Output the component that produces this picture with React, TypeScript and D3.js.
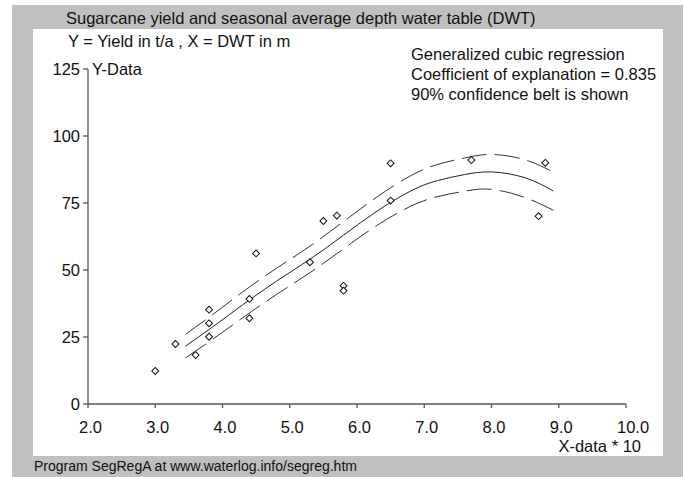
import React from "react";
import * as d3 from "d3";

const titleLines = [
  "Sugarcane yield and seasonal average depth water table (DWT)",
  "Y = Yield in t/a , X = DWT in m",
];
const infoLines = [
  "Generalized cubic regression",
  "Coefficient of explanation = 0.835",
  "90% confidence belt is shown",
];
const footer = "Program SegRegA at www.waterlog.info/segreg.htm";

const xTicks = [2, 3, 4, 5, 6, 7, 8, 9, 10];
const yTicks = [0, 25, 50, 75, 100, 125];

const xObs = [3.0, 3.3, 3.6, 3.8, 3.8, 3.8, 4.4, 4.4, 4.5, 5.3, 5.5, 5.7, 5.8, 5.8, 6.5, 6.5, 7.7, 8.7, 8.8];
const yObs = [12.3, 22.4, 18.3, 35.2, 30.1, 25.1, 39.2, 32.0, 56.2, 52.9, 68.3, 70.3, 44.1, 42.3, 89.8, 75.9, 91.0, 70.1, 90.0];

const xFit = [3.45, 3.85, 4.3, 4.8, 5.3, 5.8, 6.3, 6.8, 7.2, 7.6, 8.0, 8.5, 8.92];
const yFit = [21.6, 28.7, 37.0, 45.8, 54.0, 63.0, 72.0, 79.5, 83.4, 85.6, 86.6, 84.4, 79.5];
const yUpper = [26.0, 33.3, 41.8, 50.6, 58.9, 68.1, 77.3, 85.2, 89.4, 91.8, 93.1, 91.1, 86.5];
const yLower = [17.2, 24.1, 32.2, 40.8, 49.0, 57.9, 66.7, 73.8, 77.4, 79.4, 80.1, 77.0, 72.3];

const FONT = "'Liberation Sans', Arial, sans-serif";

export default function App() {
  const x = d3.scaleLinear().domain([2, 10]).range([88, 626]);
  const y = d3.scaleLinear().domain([0, 125]).range([404, 69]);

  const line = d3
    .line<number>()
    .x((_, i) => x(xFit[i]))
    .y((d) => y(d))
    .curve(d3.curveNatural);

  const diamond = d3.symbol().type(d3.symbolSquare).size(24)();

  return (
    <svg
      width={686}
      height={477}
      style={{ position: "absolute", left: 0, top: 0, background: "#fff" }}
      fontFamily={FONT}
    >
      <rect x={12} y={5} width={671} height={472} fill="#c0c0c0" />
      <rect x={33} y={29} width={630} height={427} fill="#fff" />

      <text x={66} y={23.5} fontSize={16.5} fill="#111">{titleLines[0]}</text>
      <text x={68} y={47} fontSize={16.5} fill="#111">{titleLines[1]}</text>

      {infoLines.map((t, i) => (
        <text key={t} x={411} y={60 + i * 20} fontSize={16.5} fill="#111">{t}</text>
      ))}

      {/* axes */}
      <line x1={x(2)} x2={x(2)} y1={y(125)} y2={y(0)} stroke="#555" strokeWidth={1.3} />
      <line x1={x(2)} x2={x(10)} y1={y(0)} y2={y(0)} stroke="#555" strokeWidth={1.3} />

      {yTicks.map((t) => (
        <g key={t}>
          <line x1={x(2) - 5} x2={x(2)} y1={y(t)} y2={y(t)} stroke="#555" strokeWidth={1.3} />
          <text x={80} y={y(t)} dy="0.36em" textAnchor="end" fontSize={16.5} fill="#111">{t}</text>
        </g>
      ))}
      <text x={92} y={y(125)} dy="0.36em" fontSize={16.5} fill="#111">Y-Data</text>

      {xTicks.map((t) => (
        <g key={t}>
          <line x1={x(t)} x2={x(t)} y1={y(0)} y2={y(0) + 4} stroke="#555" strokeWidth={1.3} />
          <text x={x(t) - 9} y={433} fontSize={16.5} fill="#111">{t.toFixed(1)}</text>
        </g>
      ))}
      <text x={641} y={452} textAnchor="end" fontSize={16.5} fill="#111">X-data * 10</text>

      {/* regression and confidence belt */}
      <path d={line(yUpper) || ""} fill="none" stroke="#333" strokeWidth={1} strokeDasharray="25 8" />
      <path d={line(yLower) || ""} fill="none" stroke="#333" strokeWidth={1} strokeDasharray="25 8" />
      <path d={line(yFit) || ""} fill="none" stroke="#222" strokeWidth={1} />

      {xObs.map((xv, i) => (
        <path
          key={i}
          d={diamond || ""}
          transform={`translate(${x(xv)},${y(yObs[i])}) rotate(45)`}
          fill="#fff"
          stroke="#111"
          strokeWidth={1}
        />
      ))}

      <text x={34} y={471} fontSize={14} fill="#111">{footer}</text>
    </svg>
  );
}
